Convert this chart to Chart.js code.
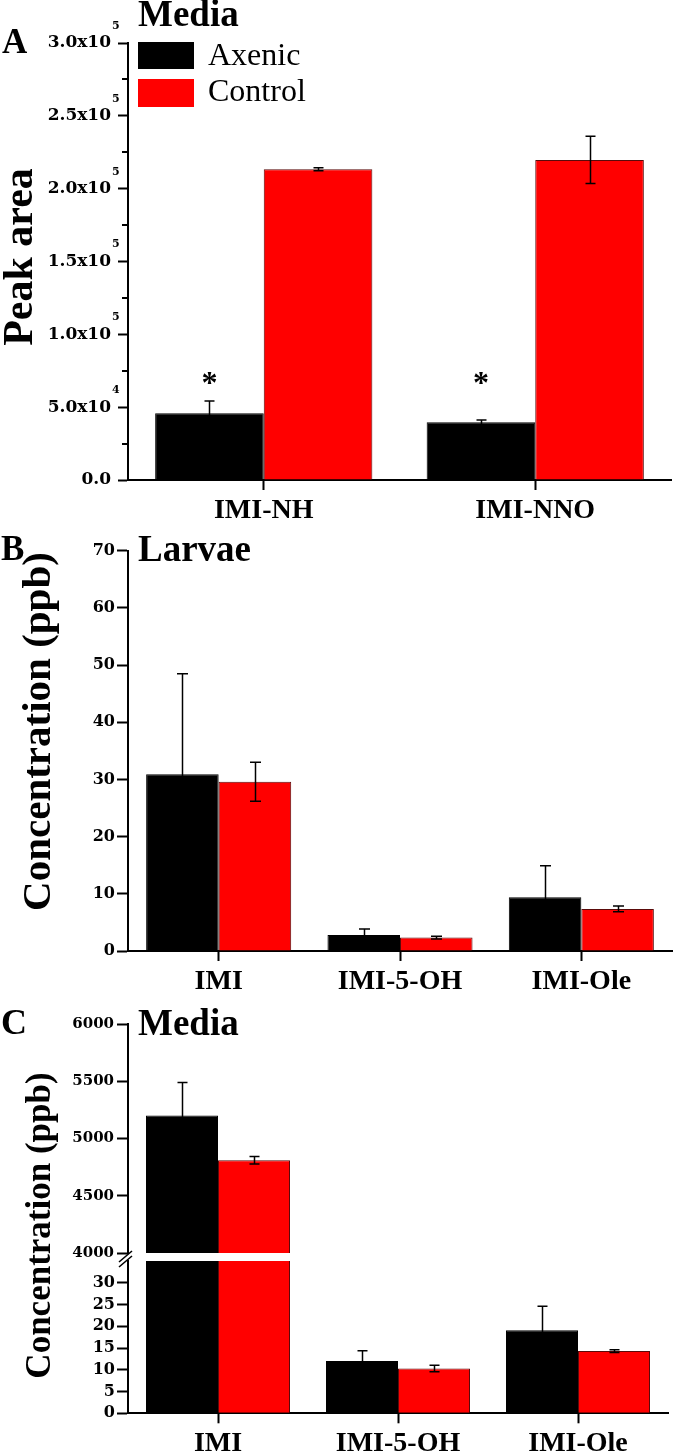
<!DOCTYPE html>
<html><head><meta charset="utf-8">
<script src="https://cdn.jsdelivr.net/npm/chart.js@4.4.1/dist/chart.umd.min.js"></script>
<style>
html,body{margin:0;padding:0;background:#fff;}
body{width:675px;height:1454px;position:relative;overflow:hidden;font-family:'Liberation Serif','Times New Roman',serif;color:#000;}
canvas{position:absolute;left:0;}
.t{position:absolute;white-space:nowrap;}
.b{font-weight:bold;}
.rot{position:absolute;width:600px;text-align:center;white-space:nowrap;font-weight:bold;transform:rotate(-90deg);transform-origin:50% 50%;}
.box{position:absolute;}
</style></head><body>
<canvas id="cA" width="675" height="525" style="top:0px"></canvas>
<canvas id="cB" width="675" height="470" style="top:525px"></canvas>
<canvas id="cCu" width="675" height="265" style="top:1000px"></canvas>
<canvas id="cCl" width="675" height="209" style="top:1245px"></canvas>
<div id="overlay"></div>
<script>
// ---------------- DATA ----------------
const seriesNames = ['Axenic', 'Control'];
const seriesColors = ['#000000', '#ff0000'];

// Panel A (Media, peak area)
const catA = ['IMI-NH', 'IMI-NNO'];
const axenicA = [45800, 39600];
const axenicAErr = [8400, 1600];
const controlA = [213300, 219700];
const controlAErr = [1000, 16200];
const sigA = ['*', '*'];
const aTickMantissa = ['0.0', '5.0x10', '1.0x10', '1.5x10', '2.0x10', '2.5x10', '3.0x10'];
const aTickExp = ['', '4', '5', '5', '5', '5', '5'];

// Panel B (Larvae, ppb)
const catB = ['IMI', 'IMI-5-OH', 'IMI-Ole'];
const axenicB = [30.9, 2.8, 9.4];
const axenicBErr = [17.6, 1.05, 5.5];
const controlB = [29.6, 2.35, 7.35];
const controlBErr = [3.4, 0.23, 0.5];

// Panel C (Media, ppb, broken axis)
const catC = ['IMI', 'IMI-5-OH', 'IMI-Ole'];
const axenicC = [5200, 12.0, 19.1];
const axenicCErr = [290, 2.4, 5.5];
const controlC = [4810, 10.3, 14.3];
const controlCErr = [33, 0.75, 0.3];

const panelTitles = ['Media', 'Larvae', 'Media'];
const panelLetters = ['A', 'B', 'C'];
const yTitles = ['Peak area', 'Concentration (ppb)', 'Concentration (ppb)'];

// ---------------- PLUGINS ----------------
const errorBars = {
  id: 'errorBars',
  afterDatasetsDraw(chart, args, opts) {
    const ctx = chart.ctx, ca = chart.chartArea;
    ctx.save();
    ctx.beginPath();
    ctx.rect(ca.left, ca.top - 1, ca.right - ca.left, ca.bottom - ca.top + 1);
    ctx.clip();
    ctx.strokeStyle = '#000';
    ctx.lineWidth = opts.lineWidth || 1.5;
    chart.data.datasets.forEach((ds, di) => {
      const meta = chart.getDatasetMeta(di);
      const ys = chart.scales[meta.yAxisID];
      (ds.errors || []).forEach((e, i) => {
        const el = meta.data[i];
        if (!el) return;
        const v = ds.data[i];
        const yt = ys.getPixelForValue(v + e), yb = ys.getPixelForValue(v - e);
        const x = Math.round(el.x) + 0.5, hw = (opts.capWidth || 10) / 2;
        ctx.beginPath();
        ctx.moveTo(x, yt); ctx.lineTo(x, yb);
        ctx.moveTo(x - hw, yt); ctx.lineTo(x + hw, yt);
        ctx.moveTo(x - hw, yb); ctx.lineTo(x + hw, yb);
        ctx.stroke();
      });
    });
    ctx.restore();
  }
};

const sigMarks = {
  id: 'sigMarks',
  afterDatasetsDraw(chart, args, opts) {
    if (!opts.marks) return;
    const ctx = chart.ctx, meta = chart.getDatasetMeta(0), ys = chart.scales.y;
    const fs = opts.size || 28;
    ctx.save();
    ctx.fillStyle = '#000';
    ctx.font = 'bold ' + fs + 'px "Liberation Serif"';
    ctx.textAlign = 'center';
    ctx.textBaseline = 'alphabetic';
    opts.marks.forEach((m, i) => {
      if (!m) return;
      const y = ys.getPixelForValue(opts.level);
      ctx.fillText(m, meta.data[i].x, y + 0.48 * fs);
    });
    ctx.restore();
  }
};

const minorTicks = {
  id: 'minorTicks',
  afterDraw(chart, args, opts) {
    if (!opts.length) return;
    const ctx = chart.ctx, ys = chart.scales.y, ca = chart.chartArea;
    const t = ys.ticks;
    ctx.save();
    ctx.strokeStyle = '#000';
    ctx.lineWidth = 2;
    for (let i = 0; i < t.length - 1; i++) {
      const y = Math.round(ys.getPixelForValue((t[i].value + t[i + 1].value) / 2));
      ctx.beginPath();
      ctx.moveTo(ca.left - opts.length, y);
      ctx.lineTo(ca.left, y);
      ctx.stroke();
    }
    ctx.restore();
  }
};

const tickExponents = {
  id: 'tickExponents',
  afterDraw(chart, args, opts) {
    if (!opts.labels) return;
    const ctx = chart.ctx, ys = chart.scales.y;
    ctx.save();
    ctx.fillStyle = '#000';
    ctx.font = 'bold ' + opts.size + 'px "DejaVu Serif"';
    ctx.textAlign = 'left';
    ctx.textBaseline = 'middle';
    ys.ticks.forEach((tk, i) => {
      const lab = opts.labels[i];
      if (!lab) return;
      ctx.fillText(lab, opts.x, ys.getPixelForValue(tk.value) + opts.dy);
    });
    ctx.restore();
  }
};

const breakMarks = {
  id: 'breakMarks',
  afterDraw(chart, args, opts) {
    if (!opts.show) return;
    const ctx = chart.ctx, ca = chart.chartArea;
    const L = ca.left, T = ca.top;
    ctx.save();
    ctx.strokeStyle = '#000';
    ctx.lineWidth = 1.6;
    ctx.beginPath();
    ctx.moveTo(L - 9, T + 1); ctx.lineTo(L + 4, T - 10);
    ctx.moveTo(L - 9, T + 6); ctx.lineTo(L + 4, T - 5);
    ctx.stroke();
    ctx.restore();
  }
};

// ---------------- HELPERS ----------------
function datasets(ax, axErr, ct, ctErr) {
  return [
    { label: seriesNames[0], data: ax, errors: axErr, backgroundColor: seriesColors[0], borderColor: '#000000',
      borderWidth: 1, categoryPercentage: 0.8, barPercentage: 1.0, clip: 0 },
    { label: seriesNames[1], data: ct, errors: ctErr, backgroundColor: seriesColors[1], borderColor: '#5a0a0a',
      borderWidth: 1, categoryPercentage: 0.8, barPercentage: 1.0, clip: 0 }
  ];
}
function xScale(h, show) {
  return {
    type: 'category', offset: true, display: show !== false,
    grid: { offset: false, drawOnChartArea: false, drawTicks: true, tickLength: 10, tickWidth: 2, tickColor: '#000' },
    border: { display: true, color: '#000', width: 2 },
    ticks: { color: '#000', autoSkip: false, maxRotation: 0, minRotation: 0, padding: 4,
      font: { family: '"Liberation Serif"', weight: 'bold', size: 28 } },
    afterFit(s) { s.height = h; }
  };
}
function yScale(min, max, step, fontSize, tickLen, pad, cb) {
  const o = {
    min: min, max: max,
    grid: { drawOnChartArea: false, drawTicks: true, tickLength: tickLen, tickWidth: 2, tickColor: '#000' },
    border: { display: true, color: '#000', width: 2 },
    ticks: { stepSize: step, color: '#000', padding: pad,
      callback: cb || (v => String(v)),
      font: { family: '"DejaVu Serif"', weight: 'bold', size: fontSize } },
    afterFit(s) { s.width = 128; }
  };
  return o;
}
const baseOpts = {
  responsive: false, animation: false, devicePixelRatio: 1, events: []
};
const allPlugins = [errorBars, sigMarks, minorTicks, tickExponents, breakMarks];

// ---------------- CHART A ----------------
new Chart(document.getElementById('cA'), {
  type: 'bar',
  data: { labels: catA, datasets: datasets(axenicA, axenicAErr, controlA, controlAErr) },
  options: Object.assign({}, baseOpts, {
    layout: { padding: { top: 43, right: 4, left: 0, bottom: 0 } },
    scales: {
      x: xScale(45),
      y: yScale(0, 300000, 50000, 17, 10, 7, (v, i) => aTickMantissa[i])
    },
    plugins: {
      legend: { display: false }, tooltip: { enabled: false },
      errorBars: { capWidth: 10, lineWidth: 1.5 },
      sigMarks: { marks: sigA, level: 70000, size: 32 },
      minorTicks: { length: 6 },
      tickExponents: { labels: aTickExp, size: 11, dy: -17, x: 112 },
      breakMarks: { show: false }
    }
  }),
  plugins: allPlugins
});

// ---------------- CHART B ----------------
new Chart(document.getElementById('cB'), {
  type: 'bar',
  data: { labels: catB, datasets: datasets(axenicB, axenicBErr, controlB, controlBErr) },
  options: Object.assign({}, baseOpts, {
    layout: { padding: { top: 25.7, right: 3, left: 0, bottom: 0 } },
    scales: {
      x: xScale(44),
      y: yScale(0, 70, 10, 16, 11, 2)
    },
    plugins: {
      legend: { display: false }, tooltip: { enabled: false },
      errorBars: { capWidth: 11, lineWidth: 1.5 },
      sigMarks: {}, minorTicks: {}, tickExponents: {}, breakMarks: { show: false }
    }
  }),
  plugins: allPlugins
});

// ---------------- CHART C (upper segment) ----------------
new Chart(document.getElementById('cCu'), {
  type: 'bar',
  data: { labels: catC, datasets: datasets(axenicC, axenicCErr, controlC, controlCErr) },
  options: Object.assign({}, baseOpts, {
    layout: { padding: { top: 24, right: 7, left: 0, bottom: 10 } },
    scales: {
      x: xScale(0, false),
      y: yScale(4000, 6000, 500, 15, 11, 3)
    },
    plugins: {
      legend: { display: false }, tooltip: { enabled: false },
      errorBars: { capWidth: 10, lineWidth: 1.5 },
      sigMarks: {}, minorTicks: {}, tickExponents: {}, breakMarks: { show: false }
    }
  }),
  plugins: allPlugins
});

// ---------------- CHART C (lower segment) ----------------
const yLow = yScale(0, 35, 5, 16, 11, 2);
yLow.afterBuildTicks = s => { s.ticks = s.ticks.filter(t => t.value <= 30); };
new Chart(document.getElementById('cCl'), {
  type: 'bar',
  data: { labels: catC, datasets: datasets(axenicC, axenicCErr, controlC, controlCErr) },
  options: Object.assign({}, baseOpts, {
    layout: { padding: { top: 16, right: 7, left: 0, bottom: 0 } },
    scales: {
      x: xScale(40.7),
      y: yLow
    },
    plugins: {
      legend: { display: false }, tooltip: { enabled: false },
      errorBars: { capWidth: 10, lineWidth: 1.5 },
      sigMarks: {}, minorTicks: {}, tickExponents: {}, breakMarks: { show: true }
    }
  }),
  plugins: allPlugins
});

// ---------------- TEXT OVERLAY ----------------
const ov = document.getElementById('overlay');
function addText(txt, left, baseline, size, bold) {
  const d = document.createElement('div');
  d.className = 't' + (bold ? ' b' : '');
  d.textContent = txt;
  d.style.fontSize = size + 'px';
  d.style.lineHeight = size + 'px';
  d.style.left = left + 'px';
  d.style.top = (baseline - 0.8375 * size) + 'px';
  ov.appendChild(d);
}
function addRot(txt, baselineX, centerY, size) {
  const d = document.createElement('div');
  d.className = 'rot';
  d.textContent = txt;
  d.style.fontSize = size + 'px';
  d.style.lineHeight = size + 'px';
  d.style.height = size + 'px';
  const cx = baselineX - 0.3375 * size;
  d.style.left = (cx - 300) + 'px';
  d.style.top = (centerY - size / 2) + 'px';
  ov.appendChild(d);
}
function addBox(left, top, w, h, color) {
  const d = document.createElement('div');
  d.className = 'box';
  Object.assign(d.style, { left: left + 'px', top: top + 'px', width: w + 'px', height: h + 'px', background: color });
  ov.appendChild(d);
}
// panel letters
addText(panelLetters[0], 2, 53, 35, true);
addText(panelLetters[1], 1, 560, 35, true);
addText(panelLetters[2], 1, 1034, 36, true);
// panel titles
addText(panelTitles[0], 138, 25.7, 37, true);
addText(panelTitles[1], 138, 561, 37, true);
addText(panelTitles[2], 138, 1035, 37, true);
// legend
addBox(138, 42, 56, 27, seriesColors[0]);
addBox(138, 79, 56, 28, seriesColors[1]);
addText(seriesNames[0], 208, 65, 32, false);
addText(seriesNames[1], 208, 100.7, 32, false);
// y-axis titles
addRot(yTitles[0], 32, 257, 42);
addRot(yTitles[1], 50, 731.5, 41);
addRot(yTitles[2], 50, 1225, 35);
</script>
</body></html>
